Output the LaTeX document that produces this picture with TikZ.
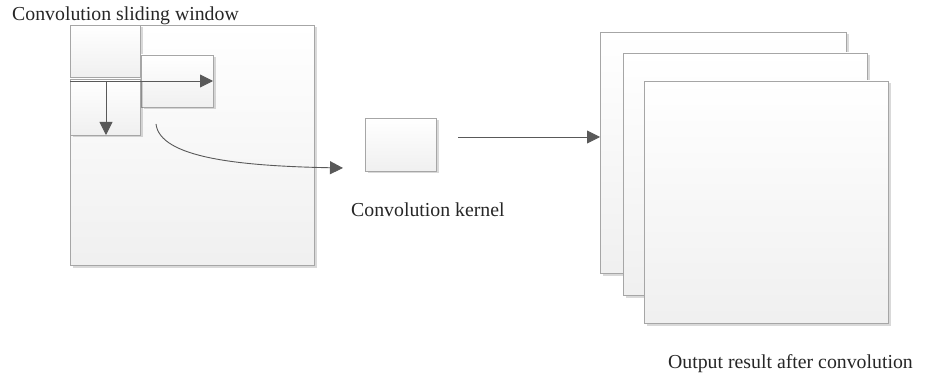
\documentclass[tikz,border=0pt]{standalone}
\usepackage{fontspec}
\setmainfont{Liberation Serif}
\usetikzlibrary{arrows.meta,shadows}
\definecolor{edgegray}{HTML}{A6A6A6}
\definecolor{arrowgray}{HTML}{595959}
\tikzset{
  panel/.style={draw=edgegray, line width=0.9pt, top color=white, bottom color=black!6,
    drop shadow={shadow xshift=2.5pt, shadow yshift=-2.5pt, opacity=0.15, fill=black},
    anchor=north west, inner sep=0pt, outer sep=0pt},
  flow/.style={draw=arrowgray, line width=0.9pt, -{Triangle[length=13pt,width=13pt]}},
  caption/.style={font=\fontsize{19.8}{23}\selectfont, text=black!85, inner sep=0pt},
}
\begin{document}
\begin{tikzpicture}[x=1pt, y=-1pt]
\useasboundingbox (0,0) rectangle (930,377);

% input feature map with sliding windows
\node[panel, minimum width=244pt, minimum height=240pt] (field) at (70,25) {};
\node[panel, minimum width=70pt, minimum height=52pt] (win1) at (70,25) {};
\node[panel, minimum width=72pt, minimum height=52pt] (win2) at (141,55) {};
\node[panel, minimum width=70pt, minimum height=56pt] (win3) at (70,79) {};
\coordinate (hs) at (70,81);
\coordinate (vs) at (106,81);
\draw[flow] (hs) -- (win2.east |- hs);
\draw[flow] (vs) -- (vs |- win3.south);

% convolution kernel
\node[panel, minimum width=71pt, minimum height=53pt] (kernel) at (365,118) {};
\coordinate (cs) at (156,124);
\coordinate (kin) at (343,168);
\draw[flow] (cs) .. controls (160,158) and (240,166) .. (kin);

% stacked output maps
\node[panel, minimum width=246pt, minimum height=241pt] (back) at (600,32) {};
\node[panel, minimum width=244pt, minimum height=242pt] (mid) at (623,53) {};
\node[panel, minimum width=244pt, minimum height=242pt] (front) at (644,81) {};
\coordinate (ks) at (458,137);
\draw[flow] (ks) -- (back.west |- ks);

% labels
\node[caption, anchor=base west] (lwin) at (12,21) {Convolution sliding window};
\node[caption, anchor=base west] (lker) at (351,217) {Convolution kernel};
\node[caption, anchor=base east] (lout) at (913,368) {Output result after convolution};
\end{tikzpicture}
\end{document}
